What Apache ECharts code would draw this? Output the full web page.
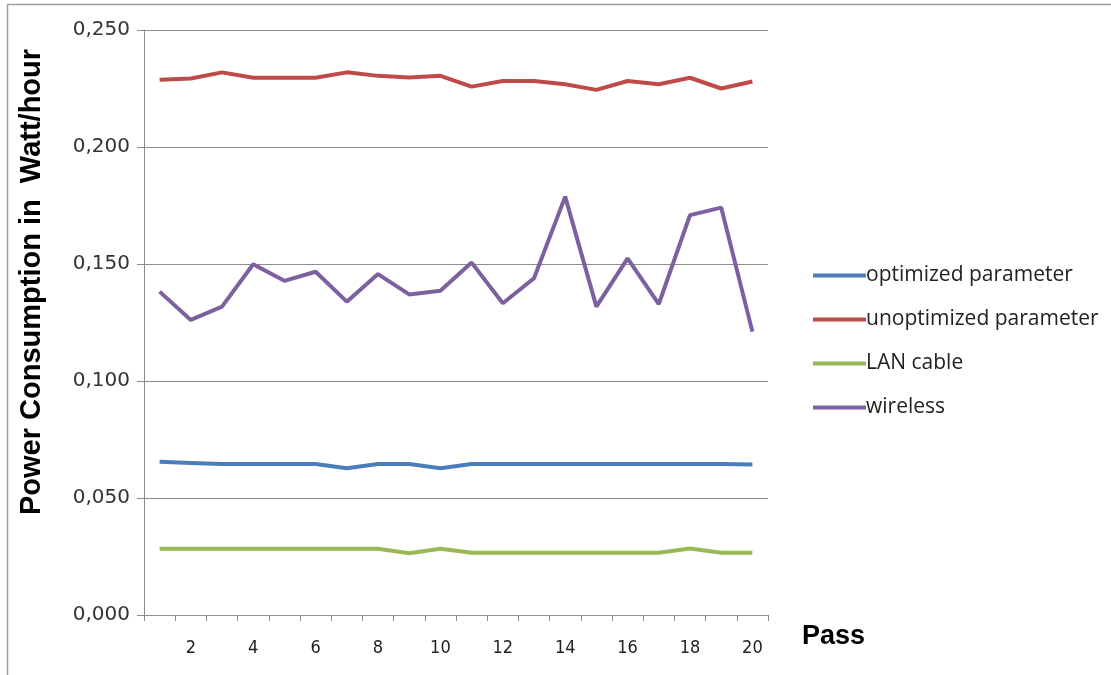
<!DOCTYPE html>
<html>
<head>
<meta charset="utf-8">
<script src="https://cdn.jsdelivr.net/npm/echarts@6/dist/echarts.min.js"></script>
<style>
  html, body { margin: 0; padding: 0; background: #fff; }
  #chart { width: 1111px; height: 675px; }
</style>
</head>
<body>
<div id="chart"></div>
<script>
// Pass numbers on the x axis
const passes = ['1','2','3','4','5','6','7','8','9','10','11','12','13','14','15','16','17','18','19','20'];

// Power consumption per pass (Watt/hour)
const optimized = [0.0655, 0.065, 0.0645, 0.0645, 0.0645, 0.0645, 0.0627, 0.0645, 0.0645, 0.0627,
                   0.0645, 0.0645, 0.0645, 0.0645, 0.0645, 0.0645, 0.0645, 0.0645, 0.0645, 0.0643];
const unoptimized = [0.2287, 0.2293, 0.2319, 0.2296, 0.2296, 0.2296, 0.2319, 0.2304, 0.2297, 0.2304,
                     0.2258, 0.2282, 0.2282, 0.2268, 0.2244, 0.2282, 0.2268, 0.2296, 0.2250, 0.2280];
const lanCable = [0.0283, 0.0283, 0.0283, 0.0283, 0.0283, 0.0283, 0.0283, 0.0283, 0.0264, 0.0283,
                  0.0266, 0.0266, 0.0266, 0.0266, 0.0266, 0.0266, 0.0266, 0.0284, 0.0266, 0.0266];
const wireless = [0.1382, 0.1261, 0.1318, 0.1499, 0.1428, 0.1467, 0.1339, 0.1457, 0.1370, 0.1386,
                  0.1506, 0.1332, 0.1439, 0.1788, 0.1318, 0.1524, 0.1329, 0.1709, 0.1741, 0.1211];

// Y axis tick labels (decimal comma)
const yTickLabels = ['0,000', '0,050', '0,100', '0,150', '0,200', '0,250'];

const seriesNames = ['optimized parameter', 'unoptimized parameter', 'LAN cable', 'wireless'];
const seriesColors = ['#4a7ebb', '#be4b48', '#98b954', '#7d60a0'];
const seriesData = [optimized, unoptimized, lanCable, wireless];

const chart = echarts.init(document.getElementById('chart'), null, { renderer: 'canvas' });

chart.setOption({
  animation: false,
  backgroundColor: '#ffffff',
  grid: { left: 144, right: 343, top: 30, bottom: 60, containLabel: false },
  legend: {
    orient: 'vertical',
    left: 808,
    top: 260,
    itemGap: 23,
    itemWidth: 53,
    itemHeight: 4,
    icon: 'rect',
    data: seriesNames,
    textStyle: { fontFamily: '"Open Sans", sans-serif', fontSize: 21, color: '#222', padding: [0, 0, 0, -5] }
  },
  xAxis: {
    type: 'category',
    data: passes,
    boundaryGap: true,
    name: 'Pass',
    nameLocation: 'end',
    nameGap: 34,
    nameTextStyle: {
      fontFamily: '"Liberation Sans", Arial, sans-serif',
      fontSize: 27, fontWeight: 'bold', color: '#000',
      verticalAlign: 'top', padding: [8, 0, 0, 0]
    },
    axisLine: { lineStyle: { color: '#8c8c8c', width: 1 } },
    axisTick: { show: true, interval: 0, length: 6, lineStyle: { color: '#8c8c8c' } },
    axisLabel: {
      interval: function (idx) { return idx % 2 === 1; },
      margin: 24,
      fontFamily: '"DejaVu Sans Condensed", "Liberation Sans Narrow", "Liberation Sans", sans-serif',
      fontSize: 18, color: '#222'
    },
    splitLine: { show: false }
  },
  yAxis: {
    type: 'value',
    min: 0,
    max: 0.25,
    interval: 0.05,
    axisLine: { show: true, lineStyle: { color: '#8c8c8c', width: 1 } },
    axisTick: { show: true, length: 7, lineStyle: { color: '#8c8c8c' } },
    axisLabel: {
      margin: 14,
      fontFamily: '"DejaVu Sans", Verdana, sans-serif',
      fontSize: 20, color: '#333',
      formatter: function (v) { return yTickLabels[Math.round(v / 0.05)]; }
    },
    splitLine: { show: true, lineStyle: { color: '#8c8c8c', width: 1 } }
  },
  series: seriesNames.map(function (name, i) {
    return {
      name: name,
      type: 'line',
      data: seriesData[i],
      showSymbol: false,
      symbol: 'none',
      smooth: false,
      itemStyle: { color: seriesColors[i] },
      lineStyle: { color: seriesColors[i], width: 4 },
      emphasis: { disabled: true }
    };
  }),
  graphic: [
    {
      type: 'line',
      shape: { x1: 7.5, y1: 4, x2: 7.5, y2: 675 },
      style: { stroke: '#a0a0a0', lineWidth: 1.5 },
      silent: true
    },
    {
      type: 'line',
      shape: { x1: 7, y1: 4.5, x2: 1111, y2: 4.5 },
      style: { stroke: '#a0a0a0', lineWidth: 1.5 },
      silent: true
    },
    {
      type: 'text',
      x: 32, y: 282,
      rotation: Math.PI / 2,
      style: {
        text: 'Power Consumption in  Watt/hour',
        fontFamily: '"Liberation Sans", Arial, sans-serif',
        fontSize: 29, fontWeight: 'bold', fill: '#000',
        align: 'center', verticalAlign: 'middle'
      },
      silent: true
    }
  ]
});
</script>
</body>
</html>
